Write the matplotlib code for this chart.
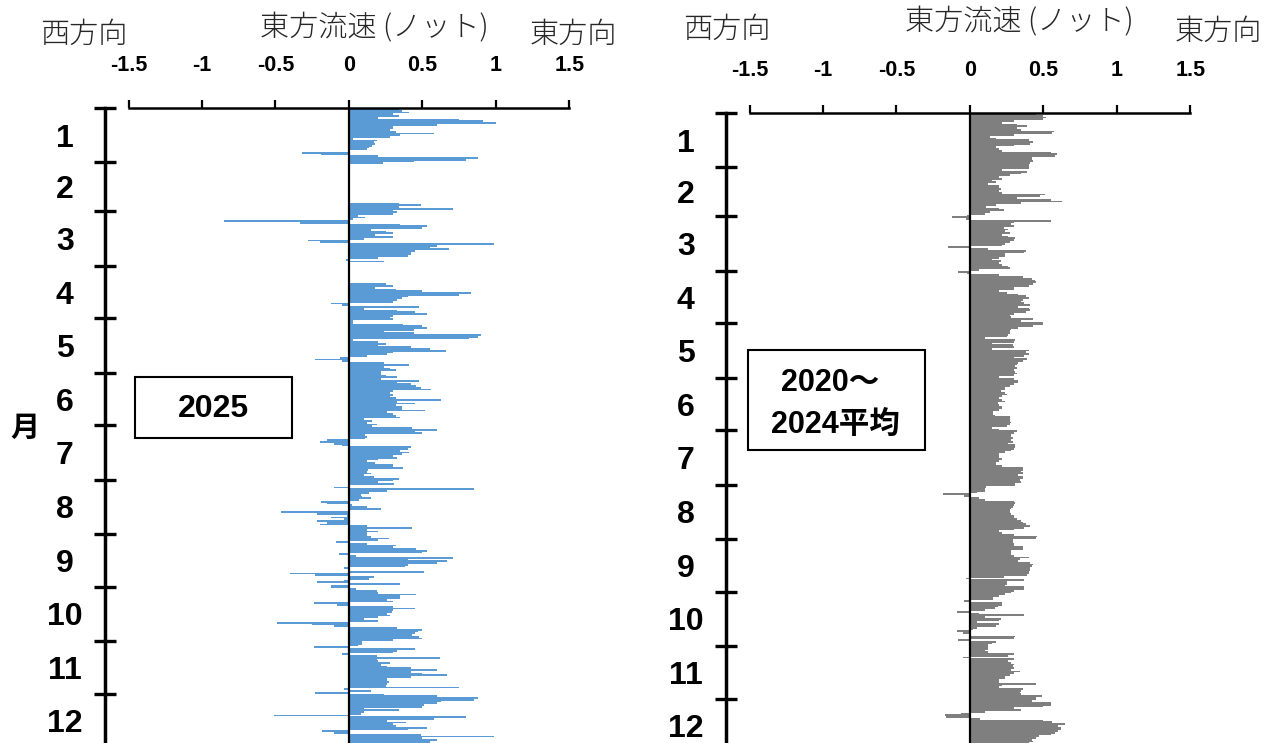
import numpy as np
import matplotlib.pyplot as plt
from matplotlib.patches import Rectangle

plt.rcParams['font.family'] = ['Liberation Sans', 'Noto Sans CJK JP']

month_labels = [str(m) for m in range(1, 13)]
month_days = [31, 28, 31, 30, 31, 30, 31, 31, 30, 31, 30, 31]
tick_values = [-1.5, -1, -0.5, 0, 0.5, 1, 1.5]
tick_labels = ['-1.5', '-1', '-0.5', '0', '0.5', '1', '1.5']
nan = np.nan

# --- 2025 daily eastward current (knots) ---
jan_2025 = [0.34, 0.36, 0.41, 0.30, 0.34, 0.20, 0.75, 0.91, 1.00, 0.60, 0.30, 0.30, 0.28, 0.32, 0.58, 0.35,
            0.28, 0.03, 0.19, 0.17, 0.18, 0.16, 0.14, 0.12, 0.00, -0.32, -0.19, 0.20, 0.88, 0.80, 0.44]
feb_2025 = [0.23] + [nan] * 22 + [0.34, 0.49, 0.34, 0.71, 0.30]
mar_2025 = [0.33, 0.30, 0.06, 0.11, 0.03, -0.85, -0.33, 0.35, 0.53, 0.50, 0.15, 0.25, 0.30, 0.18, 0.30, 0.10,
            -0.28, -0.20, 0.99, 0.60, 0.55, 0.68, 0.45, 0.42, 0.42, 0.40, 0.20, -0.02, 0.24, nan, nan]
apr_2025 = [nan] * 10 + [0.25, 0.30, 0.18, 0.32, 0.50, 0.83, 0.75, 0.40, 0.36, 0.33, 0.30, -0.12, -0.05,
                         0.48, 0.10, 0.33, 0.45, 0.53, 0.30, 0.28]
may_2025 = [0.30, 0.03, 0.03, 0.37, 0.50, 0.53, 0.44, 0.24, 0.44, 0.90, 0.88, 0.82, 0.03, 0.20, 0.25, 0.20,
            0.42, 0.55, 0.66, 0.30, 0.26, 0.12, -0.06, -0.23, -0.05, 0.24, 0.41, 0.24, 0.28, 0.32, 0.22]
jun_2025 = [0.22, 0.25, 0.33, 0.22, 0.48, 0.33, 0.42, 0.46, 0.49, 0.56, 0.30, 0.28, 0.30, 0.28, 0.32, 0.63,
            0.33, 0.45, 0.32, 0.36, 0.36, 0.52, 0.26, 0.30, 0.32, 0.35, 0.10, 0.16, 0.12, 0.19]
jul_2025 = [0.16, 0.43, 0.60, 0.45, 0.50, 0.11, 0.12, 0.11, -0.15, -0.20, -0.10, -0.05, 0.42, 0.40, 0.35, 0.41,
            0.36, 0.30, 0.33, 0.20, 0.12, 0.18, 0.30, 0.30, 0.37, 0.13, 0.12, 0.15, 0.10, 0.17, 0.34]
aug_2025 = [0.30, 0.20, 0.31, 0.00, -0.10, 0.85, 0.26, 0.14, 0.08, 0.09, 0.15, 0.07, -0.19, -0.15, 0.02, 0.12,
            0.22, 0.00, -0.46, -0.22, -0.01, -0.12, -0.03, -0.22, -0.15, -0.20, 0.12, 0.43, 0.12, 0.20, 0.12]
sep_2025 = [0.12, 0.15, 0.27, 0.20, -0.09, 0.12, 0.32, 0.30, 0.46, 0.53, 0.50, -0.07, 0.05, 0.71, 0.40, 0.67,
            0.60, 0.40, 0.38, -0.03, 0.00, 0.51, -0.40, -0.23, 0.17, 0.14, -0.03, -0.22, 0.35, -0.12]
oct_2025 = [-0.12, 0.05, 0.19, 0.20, 0.46, 0.35, 0.35, 0.26, 0.30, -0.24, -0.08, 0.30, 0.45, 0.30, 0.29, 0.26,
            0.28, 0.20, 0.10, 0.20, -0.49, -0.25, -0.10, 0.33, 0.50, 0.47, 0.45, 0.43, 0.48, 0.50, 0.30]
nov_2025 = [0.09, 0.09, 0.06, -0.24, 0.45, 0.33, 0.30, -0.05, 0.19, 0.62, 0.19, 0.20, 0.28, 0.22, 0.26, 0.42,
            0.60, 0.42, 0.50, 0.67, 0.42, 0.26, 0.26, 0.27, 0.26, 0.25, 0.75, -0.03, 0.15, -0.23]
dec_2025 = [0.24, 0.60, 0.88, 0.85, 0.63, 0.60, 0.51, 0.50, 0.10, 0.34, 0.10, 0.08, -0.51, 0.80, 0.58, 0.26,
            0.39, 0.30, 0.32, 0.53, 0.40, -0.18, -0.10, 0.49, 0.99, 0.50, 0.60, 0.55, 0.60, 0.50, 0.45]

# --- 2020-2024 mean ---
jan_avg = [0.45, 0.50, 0.52, 0.50, 0.30, 0.22, 0.32, 0.39, 0.32, 0.35, 0.57, 0.56, 0.30, 0.14, 0.18, 0.40,
           0.43, 0.41, 0.30, 0.18, 0.20, 0.22, 0.55, 0.59, 0.58, 0.42, 0.42, 0.43, 0.41, 0.40, 0.40]
feb_avg = [0.40, 0.22, 0.39, 0.35, 0.27, 0.20, 0.22, 0.15, 0.18, 0.12, 0.20, 0.20, 0.21, 0.20, 0.22, 0.51,
           0.48, 0.32, 0.55, 0.63, 0.35, 0.18, 0.11, 0.20, 0.23, 0.14, 0.10, -0.02]
mar_avg = [-0.12, -0.03, 0.55, 0.30, 0.28, 0.30, 0.23, 0.26, 0.24, 0.27, 0.22, 0.26, 0.31, 0.30, 0.27, 0.24,
           0.22, -0.15, 0.12, 0.38, 0.37, 0.24, 0.24, 0.20, 0.15, 0.21, 0.20, 0.22, 0.26, 0.27, 0.06]
apr_avg = [-0.08, -0.02, 0.20, 0.36, 0.42, 0.44, 0.45, 0.43, 0.40, 0.30, 0.30, 0.20, 0.25, 0.33, 0.38, 0.40,
           0.36, 0.35, 0.37, 0.41, 0.33, 0.40, 0.41, 0.38, 0.30, 0.27, 0.28, 0.43, 0.35, 0.50]
may_avg = [0.50, 0.43, 0.33, 0.28, 0.27, 0.27, 0.26, 0.25, 0.10, 0.31, 0.30, 0.15, 0.29, 0.30, 0.15, 0.40,
           0.38, 0.40, 0.37, 0.30, 0.39, 0.36, 0.33, 0.32, 0.31, 0.32, 0.30, 0.31, 0.32, 0.30, 0.20]
jun_avg = [0.30, 0.33, 0.33, 0.30, 0.27, 0.24, 0.24, 0.21, 0.24, 0.25, 0.22, 0.20, 0.22, 0.24, 0.19, 0.20,
           0.22, 0.22, 0.20, 0.16, 0.16, 0.17, 0.27, 0.27, 0.27, 0.28, 0.27, 0.25, 0.15, 0.20]
jul_avg = [0.32, 0.30, 0.28, 0.28, 0.29, 0.28, 0.29, 0.26, 0.31, 0.31, 0.30, 0.28, 0.24, 0.20, 0.20, 0.20,
           0.22, 0.20, 0.18, 0.18, 0.22, 0.36, 0.36, 0.35, 0.36, 0.33, 0.36, 0.36, 0.34, 0.35, 0.31]
aug_avg = [0.31, 0.11, 0.10, 0.10, 0.05, -0.18, -0.04, 0.06, 0.10, 0.30, 0.31, 0.30, 0.29, 0.28, 0.27, 0.27,
           0.28, 0.30, 0.30, 0.32, 0.35, 0.36, 0.38, 0.41, 0.37, 0.30, 0.20, 0.22, 0.30, 0.46, 0.45]
sep_avg = [0.29, 0.29, 0.30, 0.30, 0.36, 0.36, 0.28, 0.28, 0.28, 0.30, 0.40, 0.34, 0.33, 0.41, 0.43, 0.42,
           0.41, 0.41, 0.40, 0.40, 0.39, 0.23, -0.03, 0.37, 0.25, 0.25, 0.24, 0.37, 0.37, 0.30]
oct_avg = [0.28, 0.24, 0.20, 0.16, 0.16, -0.04, 0.22, 0.22, 0.19, 0.17, 0.10, -0.09, 0.06, 0.37, 0.10, 0.21,
           0.20, 0.05, 0.20, 0.18, 0.05, 0.02, -0.09, -0.05, 0.00, 0.31, 0.30, -0.08, 0.18, 0.15, 0.12]
nov_avg = [0.12, 0.12, 0.10, 0.12, 0.30, 0.26, -0.05, 0.30, 0.26, 0.28, 0.30, 0.29, 0.30, 0.28, 0.34, 0.30,
           0.27, 0.24, 0.24, 0.20, 0.20, 0.45, 0.22, 0.20, 0.36, 0.35, 0.34, 0.35, 0.49, 0.45]
dec_avg = [0.45, 0.42, 0.55, 0.55, 0.50, 0.30, 0.35, 0.10, -0.06, -0.17, -0.16, 0.07, 0.50, 0.56, 0.65, 0.60,
           0.62, 0.62, 0.60, 0.58, 0.55, 0.47, 0.45, 0.42, 0.43, 0.40, 0.40, 0.40, 0.38, 0.38, 0.38]

v2025 = np.array(jan_2025 + feb_2025 + mar_2025 + apr_2025 + may_2025 + jun_2025 +
                 jul_2025 + aug_2025 + sep_2025 + oct_2025 + nov_2025 + dec_2025, dtype=float)
vavg = np.array(jan_avg + feb_avg + mar_avg + apr_avg + may_avg + jun_avg +
                jul_avg + aug_avg + sep_avg + oct_avg + nov_avg + dec_avg, dtype=float)

W, H = 1274, 743
fig = plt.figure(figsize=(W / 100, H / 100), dpi=100, facecolor='white')

bounds = np.concatenate([[0], np.cumsum(month_days)])
mids = (bounds[:-1] + bounds[1:]) / 2
cjk = ['Noto Sans CJK JP', 'DejaVu Sans']


def draw_panel(left_px, top_px, values, color):
    ax = fig.add_axes([left_px / W, (H - top_px - 640) / H, 479 / W, 640 / H])
    days = np.arange(len(values)) + 0.5
    ok = ~np.isnan(values)
    ax.barh(days[ok], values[ok], height=1.0, color=color, linewidth=0)
    ax.axvline(0, color='black', lw=1.6, zorder=3)
    ax.set_xlim(-1.66, 1.6)
    ax.set_ylim(365, 0)

    ax.spines['right'].set_visible(False)
    ax.spines['bottom'].set_visible(False)
    ax.spines['top'].set_bounds(-1.5, 1.5)
    ax.spines['top'].set_linewidth(1.8)
    ax.spines['left'].set_linewidth(2.5)

    ax.xaxis.tick_top()
    ax.set_xticks(tick_values, labels=tick_labels)
    ax.tick_params(axis='x', direction='out', length=6, width=1.6, pad=17,
                   labelsize=15.5)
    for lbl in ax.get_xticklabels():
        lbl.set_fontweight('bold')

    ax.set_yticks(bounds, labels=[''] * len(bounds))
    ax.set_yticks(mids, labels=month_labels, minor=True)
    ax.tick_params(axis='y', which='major', direction='inout', length=16, width=2.4)
    ax.tick_params(axis='y', which='minor', length=0, pad=29, labelsize=23)
    for lbl in ax.get_yticklabels(minor=True):
        lbl.set_fontweight('bold')
        lbl.set_ha('center')
    return ax


draw_panel(105, 108, v2025, '#5b9bd5')
draw_panel(726, 113, vavg, '#7f7f7f')


# Header texts
def ftext(x, y, s, **kw):
    fig.text(x / W, 1 - y / H, s, **kw)


head = dict(fontsize=21, family=cjk, fontweight='light', color='#262626', va='center')
ftext(40, 35, '西方向', ha='left', **head)
ftext(374, 28, '東方流速 (ノット)', ha='center', **head)
ftext(530, 35, '東方向', ha='left', **head)
ftext(683, 30, '西方向', ha='left', **head)
ftext(1019, 22, '東方流速 (ノット)', ha='center', **head)
ftext(1175, 32, '東方向', ha='left', **head)

ftext(25, 428, '月', ha='center', fontsize=21, fontweight='bold', family=cjk, va='center')

# Label boxes
fig.add_artist(Rectangle((135 / W, 1 - 438 / H), 157 / W, 61 / H, transform=fig.transFigure,
                         fill=False, edgecolor='black', lw=1.5))
ftext(213, 409, '2025', ha='center', va='center', fontsize=23, fontweight='bold')

fig.add_artist(Rectangle((748 / W, 1 - 450 / H), 177 / W, 100 / H, transform=fig.transFigure,
                         fill=False, edgecolor='black', lw=1.5))
ftext(830, 383, '2020～', ha='center', va='center', fontsize=22, fontweight='bold')
ftext(835, 425, '2024平均', ha='center', va='center', fontsize=22, fontweight='bold')

plt.savefig('out.png', dpi=100)
